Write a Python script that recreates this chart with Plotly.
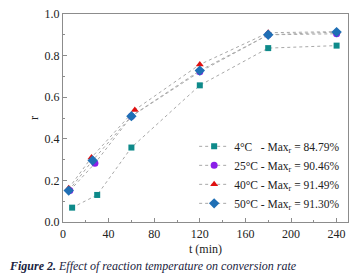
import plotly.graph_objects as go

t_4 = [8, 30, 60, 120, 180, 240]
r_4 = [0.069, 0.130, 0.358, 0.657, 0.836, 0.848]
t_25 = [6, 28, 60, 120, 180, 240]
r_25 = [0.151, 0.282, 0.508, 0.722, 0.900, 0.905]
t_40 = [5, 25, 63, 120, 180, 240]
r_40 = [0.162, 0.310, 0.539, 0.757, 0.910, 0.915]
t_50 = [5, 26, 60, 120, 180, 240]
r_50 = [0.151, 0.296, 0.509, 0.728, 0.900, 0.913]

names = ["4°C\u00a0\u00a0\u00a0- Max<sub>r</sub> = 84.79%",
         "25°C - Max<sub>r</sub> = 90.46%",
         "40°C - Max<sub>r</sub> = 91.49%",
         "50°C - Max<sub>r</sub> = 91.30%"]
colors = ["#0e8a8a", "#8a1ee8", "#e01010", "#1f6fb5"]
symbols = ["square", "circle", "triangle-up", "diamond"]
sizes = [6, 7, 7, 8]

series = [(t_4, r_4), (t_25, r_25), (t_40, r_40), (t_50, r_50)]

fig = go.Figure()
for (tx, ry), n, c, s, sz in zip(series, names, colors, symbols, sizes):
    fig.add_trace(go.Scatter(
        x=tx, y=ry, name=n, mode="lines+markers",
        line=dict(color="#a8a8a8", width=1, dash="dot"),
        marker=dict(color=c, symbol=s, size=sz, line=dict(width=0)),
    ))

font = "'Liberation Serif', 'Times New Roman', serif"
axis_common = dict(
    showline=True, linecolor="#8c8c8c", linewidth=1.2, mirror=True,
    ticks="inside", ticklen=4, tickcolor="#8c8c8c",
    showgrid=False, zeroline=False,
    tickfont=dict(family=font, size=12, color="#222"),
    minor=dict(ticks="inside", ticklen=2, tickcolor="#8c8c8c"),
)
fig.update_xaxes(range=[0, 250], tickvals=[0, 40, 80, 120, 160, 200, 240],
                 minor_dtick=20,
                 title=dict(text="t (min)", font=dict(family=font, size=12, color="#222"), standoff=5),
                 **axis_common)
fig.update_yaxes(range=[0, 1.0], tickvals=[0, 0.2, 0.4, 0.6, 0.8, 1.0],
                 tickformat=".1f", minor_dtick=0.1,
                 title=dict(text="r", font=dict(family=font, size=12, color="#222"), standoff=3),
                 **axis_common)

fig.update_layout(
    width=356, height=280,
    margin=dict(l=63, r=7, t=10, b=58),
    paper_bgcolor="white", plot_bgcolor="white",
    font=dict(family=font),
    showlegend=True,
    legend=dict(x=0.99, y=0.02, xanchor="right", yanchor="bottom",
                bgcolor="rgba(0,0,0,0)", font=dict(family=font, size=11.5, color="#222"),
                tracegroupgap=0, itemwidth=30),
    annotations=[dict(
        text="<b><i>Figure 2.</i></b> <i>Effect of reaction temperature on conversion rate</i>",
        xref="paper", yref="paper", x=-56/286, y=-0.212, xanchor="left", yanchor="middle",
        showarrow=False, font=dict(family=font, size=12, color="#1a2340"),
    )],
)

fig.write_html("out.html", config={"displayModeBar": False},
               post_script="document.body.style.margin='0';document.body.style.padding='0';")
